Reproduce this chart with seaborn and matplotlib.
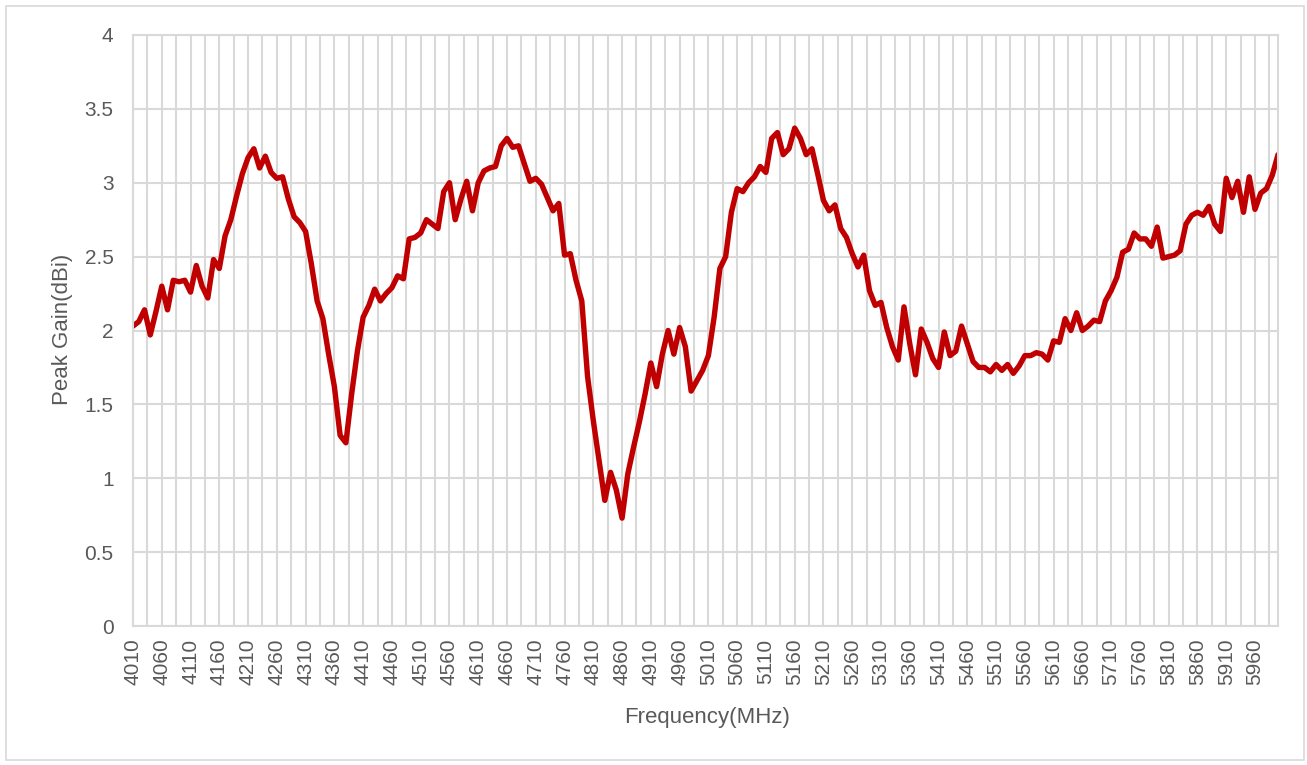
import matplotlib

matplotlib.use("Agg")

import matplotlib.pyplot as plt
import numpy as np
import pandas as pd
import seaborn as sns
from matplotlib.patches import Rectangle
from matplotlib.ticker import FixedLocator


# frequency axis: 4010 .. 6000 MHz, 10 MHz step
FREQ_START = 4010
FREQ_STOP = 6000
FREQ_STEP = 10

# peak gain (dBi), one row per 100 MHz
GAIN_4010 = [2.03, 2.06, 2.14, 1.97, 2.13, 2.30, 2.14, 2.34, 2.33, 2.34]
GAIN_4110 = [2.26, 2.44, 2.30, 2.22, 2.48, 2.42, 2.64, 2.75, 2.91, 3.06]
GAIN_4210 = [3.17, 3.23, 3.10, 3.18, 3.07, 3.03, 3.04, 2.89, 2.77, 2.73]
GAIN_4310 = [2.67, 2.45, 2.20, 2.08, 1.84, 1.62, 1.29, 1.24, 1.57, 1.86]
GAIN_4410 = [2.09, 2.17, 2.28, 2.20, 2.25, 2.29, 2.37, 2.35, 2.62, 2.63]
GAIN_4510 = [2.66, 2.75, 2.72, 2.69, 2.94, 3.00, 2.75, 2.89, 3.01, 2.81]
GAIN_4610 = [3.00, 3.08, 3.10, 3.11, 3.25, 3.30, 3.24, 3.25, 3.13, 3.01]
GAIN_4710 = [3.03, 2.99, 2.90, 2.81, 2.86, 2.51, 2.52, 2.34, 2.20, 1.69]
GAIN_4810 = [1.39, 1.12, 0.85, 1.04, 0.92, 0.73, 1.03, 1.21, 1.38, 1.57]
GAIN_4910 = [1.78, 1.62, 1.84, 2.00, 1.84, 2.02, 1.89, 1.59, 1.66, 1.73]
GAIN_5010 = [1.83, 2.09, 2.42, 2.50, 2.80, 2.96, 2.94, 3.00, 3.04, 3.11]
GAIN_5110 = [3.07, 3.30, 3.34, 3.19, 3.23, 3.37, 3.30, 3.19, 3.23, 3.06]
GAIN_5210 = [2.88, 2.81, 2.85, 2.69, 2.63, 2.52, 2.43, 2.51, 2.27, 2.17]
GAIN_5310 = [2.19, 2.02, 1.89, 1.80, 2.16, 1.91, 1.70, 2.01, 1.92, 1.81]
GAIN_5410 = [1.75, 1.99, 1.83, 1.86, 2.03, 1.91, 1.79, 1.75, 1.75, 1.72]
GAIN_5510 = [1.77, 1.73, 1.77, 1.71, 1.76, 1.83, 1.83, 1.85, 1.84, 1.80]
GAIN_5610 = [1.93, 1.92, 2.08, 2.00, 2.12, 2.00, 2.03, 2.07, 2.06, 2.20]
GAIN_5710 = [2.27, 2.36, 2.53, 2.55, 2.66, 2.62, 2.62, 2.57, 2.70, 2.49]
GAIN_5810 = [2.50, 2.51, 2.54, 2.72, 2.78, 2.80, 2.78, 2.84, 2.72, 2.67]
GAIN_5910 = [3.03, 2.90, 3.01, 2.80, 3.04, 2.82, 2.93, 2.96, 3.05, 3.19]

GAIN_ROWS = [
    GAIN_4010, GAIN_4110, GAIN_4210, GAIN_4310, GAIN_4410,
    GAIN_4510, GAIN_4610, GAIN_4710, GAIN_4810, GAIN_4910,
    GAIN_5010, GAIN_5110, GAIN_5210, GAIN_5310, GAIN_5410,
    GAIN_5510, GAIN_5610, GAIN_5710, GAIN_5810, GAIN_5910,
]

Y_TICKS = [0, 0.5, 1, 1.5, 2, 2.5, 3, 3.5, 4]
Y_TICK_LABELS = ["0", "0.5", "1", "1.5", "2", "2.5", "3", "3.5", "4"]

GRID = "#d9d9d9"
TEXT = "#595959"
LINE = "#c00000"


def build_frame():
    freq = np.arange(FREQ_START, FREQ_STOP + 1, FREQ_STEP)
    gain = np.concatenate([np.array(r) for r in GAIN_ROWS])
    return pd.DataFrame({"Frequency": freq, "Gain": gain})


def main():
    df = build_frame()

    sns.set_style("white")
    plt.rcParams["font.family"] = ["Liberation Sans", "DejaVu Sans"]

    fig = plt.figure(figsize=(13.07, 7.65), dpi=100)
    ax = fig.add_axes([133 / 1307, 1 - 626 / 765, 1145 / 1307, 591 / 765])

    # chart area border
    fig.patches.append(
        Rectangle((6 / 1307, 5 / 765), 1298 / 1307, 754 / 765,
                  transform=fig.transFigure, fill=False, edgecolor=GRID, linewidth=1.2)
    )

    sns.lineplot(data=df, x="Frequency", y="Gain", color=LINE, linewidth=3.9,
                 solid_joinstyle="round", solid_capstyle="round", ax=ax)

    ax.set_xlim(FREQ_START, FREQ_STOP)
    ax.set_ylim(0, 4)

    major = np.arange(FREQ_START, FREQ_STOP, 50)
    minor = np.arange(FREQ_START + 25, FREQ_STOP, 50)
    ax.xaxis.set_major_locator(FixedLocator(major))
    ax.xaxis.set_minor_locator(FixedLocator(minor))
    ax.set_xticklabels([str(v) for v in major], rotation=90, fontsize=15, color=TEXT)
    ax.set_yticks(Y_TICKS)
    ax.set_yticklabels(Y_TICK_LABELS, fontsize=15, color=TEXT)

    ax.tick_params(axis="both", which="both", length=0)
    ax.tick_params(axis="x", pad=9)
    ax.tick_params(axis="y", pad=14)

    ax.grid(True, which="both", color=GRID, linewidth=1.5)
    ax.set_axisbelow(True)
    for spine in ax.spines.values():
        spine.set_visible(True)
        spine.set_color(GRID)
        spine.set_linewidth(1.5)

    ax.set_xlabel("Frequency(MHz)", fontsize=16, color=TEXT)
    ax.set_ylabel("Peak Gain(dBi)", fontsize=16, color=TEXT)
    ax.xaxis.label.set_va("center")
    ax.yaxis.label.set_va("center")
    ax.xaxis.set_label_coords(0.501, -0.154)
    ax.yaxis.set_label_coords(-0.062, 0.5025)

    fig.savefig("out.png", dpi=100)
    plt.close(fig)


if __name__ == "__main__":
    main()
